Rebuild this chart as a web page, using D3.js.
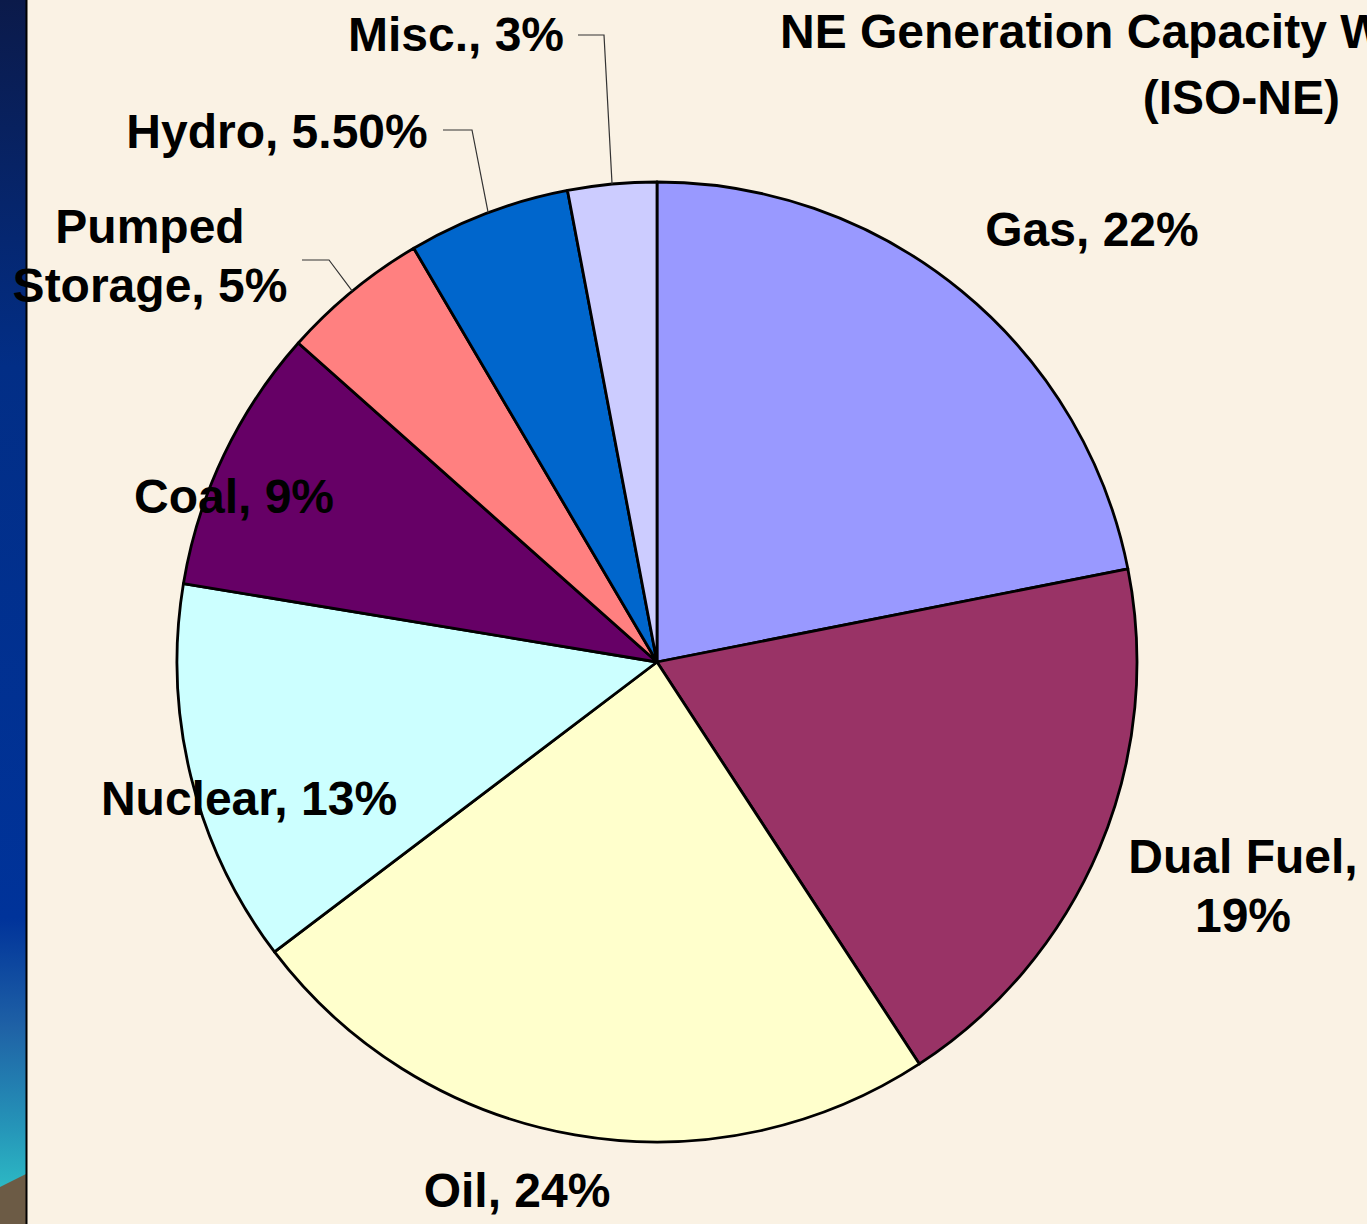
<!DOCTYPE html>
<html>
<head>
<meta charset="utf-8">
<script src="https://cdn.jsdelivr.net/npm/d3@7"></script>
<style>
  body { margin: 0; background: #FAF2E4; }
  svg { display: block; }
  text { font-family: "Liberation Sans", Arial, sans-serif; font-weight: bold; fill: #000; }
</style>
</head>
<body>
<div id="chart"></div>
<script>
// data
var fuels = ["Gas", "Dual Fuel", "Oil", "Nuclear", "Coal", "Pumped Storage", "Hydro", "Misc."];
var shares = [22, 19, 24, 13, 9, 5, 5.5, 3];
var shareLabels = ["22%", "19%", "24%", "13%", "9%", "5%", "5.50%", "3%"];
var fillColors = ["#9999FF", "#993366", "#FFFFCC", "#CCFFFF", "#660066", "#FF8080", "#0066CC", "#CCCCFF"];

var svgWidth = 1367, svgHeight = 1224;
var cx = 657, cy = 662, radius = 480;

// label placement (text lines, anchor x, first baseline, optional leader elbow)
var labelLayout = {
  "Gas": { lines: ["Gas, 22%"], x: 1092, y: 246 },
  "Dual Fuel": { lines: ["Dual Fuel,"], x: 1243, y: 873 },
  "Oil": { lines: ["Oil, 24%"], x: 517, y: 1207 },
  "Nuclear": { lines: ["Nuclear, 13%"], x: 249, y: 815 },
  "Coal": { lines: ["Coal, 9%"], x: 234, y: 513 },
  "Pumped Storage": { lines: ["Pumped", "Storage, 5%"], x: 150, y: 243, leader: [[302, 260], [329, 260]] },
  "Hydro": { lines: ["Hydro, 5.50%"], x: 277, y: 148, leader: [[443, 130], [472, 130]] },
  "Misc.": { lines: ["Misc., 3%"], x: 456, y: 51, leader: [[578, 35], [604, 35]] }
};
labelLayout["Dual Fuel"].lines.push(shareLabels[1]);

var svg = d3.select("#chart")
  .append("svg")
  .attr("width", svgWidth)
  .attr("height", svgHeight);

// left decorative strip
var defs = svg.append("defs");
var grad = defs.append("linearGradient")
  .attr("id", "strip")
  .attr("x1", 0).attr("y1", 0).attr("x2", 0).attr("y2", 1);
[["0%", "#0B1A4A"], ["30%", "#022E86"], ["75%", "#00339A"], ["84%", "#1F62A6"], ["92%", "#2594B8"], ["97%", "#2CB8C4"]]
  .forEach(function(s) {
    grad.append("stop").attr("offset", s[0]).attr("stop-color", s[1]);
  });

svg.append("rect")
  .attr("x", 0).attr("y", 0)
  .attr("width", 26).attr("height", svgHeight)
  .attr("fill", "url(#strip)");

svg.append("path")
  .attr("d", "M0,1187 L26,1174 L26,1224 L0,1224 Z")
  .attr("fill", "#6C5B45");

svg.append("line")
  .attr("x1", 26.5).attr("x2", 26.5)
  .attr("y1", 0).attr("y2", svgHeight)
  .attr("stroke", "#000")
  .attr("stroke-width", 2);

// pie
var pieData = fuels.map(function(f, i) {
  return { fuel: f, value: shares[i], label: shareLabels[i], color: fillColors[i] };
});

var pie = d3.pie()
  .sort(null)
  .value(function(d) { return d.value; });

var arc = d3.arc()
  .innerRadius(0)
  .outerRadius(radius);

var chartGroup = svg.append("g")
  .attr("transform", `translate(${cx}, ${cy})`);

var arcs = pie(pieData);

chartGroup.selectAll("path.slice")
  .data(arcs)
  .enter()
  .append("path")
  .attr("class", "slice")
  .attr("d", arc)
  .attr("fill", function(d) { return d.data.color; })
  .attr("stroke", "#000")
  .attr("stroke-width", 2.8)
  .attr("stroke-linejoin", "round");

// leader lines for the small slices
arcs.forEach(function(d) {
  var lay = labelLayout[d.data.fuel];
  if (!lay.leader) return;
  var mid = (d.startAngle + d.endAngle) / 2;
  var ex = cx + Math.sin(mid) * radius;
  var ey = cy - Math.cos(mid) * radius;
  var pts = lay.leader.concat([[ex, ey]]);
  svg.append("path")
    .attr("d", d3.line()(pts))
    .attr("fill", "none")
    .attr("stroke", "#333")
    .attr("stroke-width", 1.2);
});

// labels
arcs.forEach(function(d) {
  var lay = labelLayout[d.data.fuel];
  var t = svg.append("text")
    .attr("text-anchor", "middle")
    .attr("font-size", 48);
  lay.lines.forEach(function(line, i) {
    t.append("tspan")
      .attr("x", lay.x)
      .attr("y", lay.y + i * 59)
      .text(line);
  });
});

// title (runs off the right edge in the original)
svg.append("text")
  .attr("x", 780)
  .attr("y", 48)
  .attr("font-size", 48)
  .text("NE Generation Capacity W");

svg.append("text")
  .attr("x", 1340)
  .attr("y", 114)
  .attr("text-anchor", "end")
  .attr("font-size", 48)
  .text("(ISO-NE)");
</script>
</body>
</html>
